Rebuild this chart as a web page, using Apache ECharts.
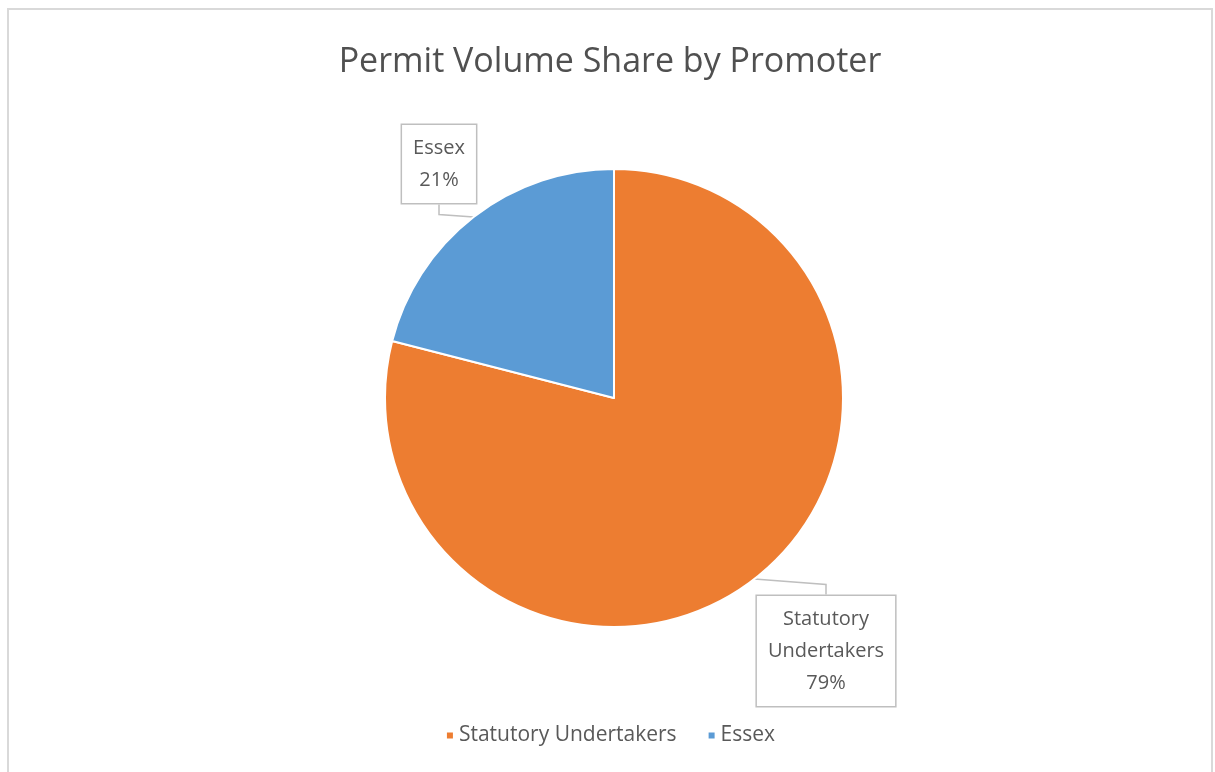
<!DOCTYPE html>
<html>
<head>
<meta charset="utf-8">
<script src="https://cdn.jsdelivr.net/npm/echarts@6/dist/echarts.min.js"></script>
<style>
    html, body { margin: 0; padding: 0; background: #fff; }
    #container {
        position: absolute; left: 7px; top: 8px; width: 1206px; height: 764px;
        border-top: 2px solid #d9d9d9; border-left: 2px solid #d9d9d9; border-right: 2px solid #d9d9d9;
        box-sizing: border-box;
    }
</style>
</head>
<body>
<div id="container"></div>
<script>
var promoters = ['Statutory Undertakers', 'Essex'];
var shares = [79, 21];
var colors = ['#ED7D31', '#5B9BD5'];

function showPie() {
    var myChart = echarts.init(document.getElementById("container"));
    // label box centres, relative to the chart
    var labelSpots = [[817, 641], [430, 154]];
    myChart.setOption({
        animation: false,
        title: {
            text: 'Permit Volume Share by Promoter',
            left: 'center',
            top: 30,
            textStyle: {
                fontFamily: 'Open Sans',
                fontWeight: 'normal',
                fontSize: 34,
                color: '#505050'
            }
        },
        legend: {
            bottom: 21,
            left: 'center',
            icon: 'rect',
            itemWidth: 8,
            itemHeight: 8,
            itemGap: 30,
            textStyle: {
                fontFamily: 'Open Sans',
                fontSize: 21,
                color: '#595959'
            },
            data: promoters
        },
        series: [{
                type: 'pie',
                center: [605, 388],
                radius: 229,
                startAngle: 90,
                clockwise: true,
                itemStyle: {
                    borderColor: '#fff',
                    borderWidth: 2
                },
                label: {
                    show: true,
                    formatter: function(p) {
                        return p.name.replace(' ', '\n') + '\n' + p.percent + '%';
                    },
                    fontFamily: 'Open Sans',
                    fontSize: 20,
                    lineHeight: 32,
                    color: '#595959',
                    backgroundColor: '#fff',
                    borderColor: '#bfbfbf',
                    borderWidth: 1.5,
                    padding: [7, 11],
                    align: 'center'
                },
                labelLine: {
                    show: true,
                    length: 10,
                    length2: 10,
                    lineStyle: {
                        color: '#bfbfbf',
                        width: 1.5
                    }
                },
                labelLayout: function(params) {
                    var spot = labelSpots[params.dataIndex];
                    return {
                        x: spot[0],
                        y: spot[1],
                        align: 'center',
                        verticalAlign: 'middle'
                    };
                },
                data: promoters.map(function(name, i) {
                    return {
                        name: name,
                        value: shares[i],
                        itemStyle: { color: colors[i] }
                    };
                })
            }]
    });
    return myChart;
}
showPie();
</script>
</body>
</html>
